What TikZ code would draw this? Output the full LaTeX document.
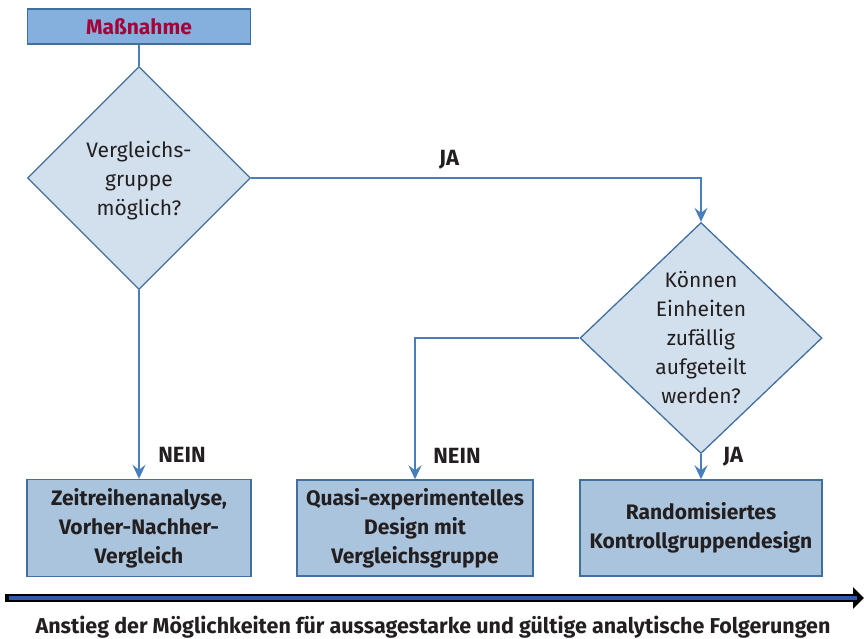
\documentclass[tikz,border=0pt]{standalone}
\usepackage{fontspec}
\setmainfont{Fira Sans}
\usetikzlibrary{shapes.geometric,arrows.meta}
\definecolor{linec}{HTML}{4A7EBB}
\definecolor{bordc}{HTML}{41709F}
\definecolor{diafill}{HTML}{D2DFEC}
\definecolor{boxfill}{HTML}{ABC4DE}
\definecolor{topfill}{HTML}{85AFDC}
\definecolor{redtxt}{HTML}{A6003A}
\definecolor{txt}{HTML}{231F20}
\definecolor{arrblue}{HTML}{2D5BA8}
\tikzset{
  dia/.style={diamond, draw=bordc, fill=diafill, line width=1.3pt, inner sep=0pt, aspect=1},
  dtext/.style={align=center, text=txt, font=\fontsize{21}{29}\selectfont},
  rbox/.style={rectangle, draw=bordc, fill=boxfill, line width=1.4pt, inner sep=0pt, align=center, text=txt, font=\fontsize{21}{29}\selectfont\bfseries},
  conn/.style={draw=linec, line width=2pt},
  arr/.style={conn, -{Stealth[length=14pt,width=13pt,inset=5pt]}},
  lbl/.style={text=txt, font=\fontsize{22}{24}\selectfont\bfseries},
}
\begin{document}
\begin{tikzpicture}[x=1pt,y=-1pt]
\useasboundingbox (0,0) rectangle (864,638);
% top box
\node[rbox, fill=topfill, minimum width=223pt, minimum height=35pt, text=redtxt] (m) at (139,26.5) {Maßnahme};
% diamonds
\node[dia, minimum width=223pt, minimum height=223pt] (d1) at (139,178) {};
\node[dtext] (t1) at (139,181) {Vergleichs-\\gruppe\\möglich?};
\node[dia, minimum width=242pt, minimum height=231pt] (d2) at (701,338) {};
\node[dtext] (t2) at (701,338) {Können\\Einheiten\\zufällig\\aufgeteilt\\werden?};
% bottom boxes
\node[rbox, minimum width=224pt, minimum height=97pt] (b1) at (139,528) {Zeitreihenanalyse,\\Vorher-Nachher-\\Vergleich};
\node[rbox, minimum width=236pt, minimum height=96pt] (b2) at (415,528) {Quasi-experimentelles\\Design mit\\Vergleichsgruppe};
\node[rbox, minimum width=242pt, minimum height=96pt] (b3) at (701,528) {Randomisiertes\\Kontrollgruppendesign};
% connectors
\draw[conn] (m.south) -- (d1.north);
\draw[arr] (d1.east) -| (d2.north);
\draw[arr] (d1.south) -- (b1.north);
\draw[arr] (d2.west) -| (b2.north);
\draw[arr] (d2.south) -- (b3.north);
% labels
\node[lbl] (ja1) at (449,160) {JA};
\node[lbl] (nein1) at (182,455) {NEIN};
\node[lbl] (nein2) at (457,456) {NEIN};
\node[lbl] (ja2) at (733,457) {JA};
% bottom arrow
\coordinate (a0) at (5,598);
\coordinate (a1) at (864,598);
\coordinate (a2) at (9,598);
\coordinate (a3) at (857,598);
\draw[line width=8pt, black, -{Triangle[length=11pt,width=21pt]}] (a0) -- (a1);
\draw[line width=3.5pt, arrblue] (a2) -- (a3);
\node[text=txt, font=\fontsize{21.5}{24}\selectfont\bfseries, anchor=base] (cap) at (433,633) {Anstieg der Möglichkeiten für aussagestarke und gültige analytische Folgerungen};
\end{tikzpicture}
\end{document}
